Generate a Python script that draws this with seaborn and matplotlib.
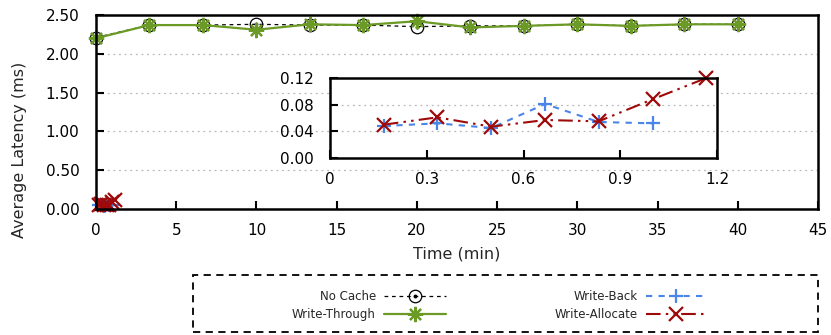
import matplotlib
matplotlib.use("Agg")
import matplotlib.pyplot as plt
import matplotlib.patches as mpatches
from matplotlib.lines import Line2D
from matplotlib.legend_handler import HandlerTuple
import seaborn as sns

# ---- data ----
t_main = [0, 3.33, 6.67, 10, 13.33, 16.67, 20, 23.33, 26.67, 30, 33.33, 36.67, 40]
no_cache = [2.21, 2.37, 2.37, 2.38, 2.37, 2.37, 2.35, 2.36, 2.36, 2.38, 2.36, 2.38, 2.38]
write_through = [2.20, 2.37, 2.37, 2.31, 2.38, 2.37, 2.42, 2.34, 2.36, 2.38, 2.36, 2.38, 2.38]

t_wb = [0.167, 0.333, 0.5, 0.667, 0.833, 1.0]
write_back = [0.048, 0.052, 0.045, 0.081, 0.054, 0.052]
t_wa = [0.167, 0.333, 0.5, 0.667, 0.833, 1.0, 1.167]
write_allocate = [0.050, 0.061, 0.047, 0.057, 0.055, 0.088, 0.120]

series_labels = ["No Cache", "Write-Through", "Write-Back", "Write-Allocate"]
main_xticks = [0, 5, 10, 15, 20, 25, 30, 35, 40, 45]
main_yticks = [0.0, 0.5, 1.0, 1.5, 2.0, 2.5]
inset_xticks = [0, 0.3, 0.6, 0.9, 1.2]
inset_xlabels = ["0", "0.3", "0.6", "0.9", "1.2"]
inset_yticks = [0.0, 0.04, 0.08, 0.12]

sns.set_theme(style="white")
plt.rcParams['font.family'] = ['DejaVu Sans']

C_NC = "black"
C_WT = "#6b9a26"
C_WB = "#4a86e8"
C_WA = "#9e0a0a"

fig = plt.figure(figsize=(8.31, 3.35), dpi=100)
ax = fig.add_axes([96/831, 1-209/335, (818-96)/831, (209-15)/335])


def draw_series(a, x, y, kind, label=None):
    if kind == "nc":
        sns.lineplot(x=x, y=y, ax=a, color=C_NC, lw=0.9, legend=False)
        ln = a.lines[-1]
        ln.set_dashes((3, 3))
        ln.set_marker("o")
        ln.set_markersize(9)
        ln.set_markerfacecolor("none")
        ln.set_markeredgecolor(C_NC)
        ln.set_markeredgewidth(0.9)
        ln.set_label(label)
        a.plot(x, y, ls="none", marker="o", ms=1.8, color=C_NC)
    elif kind == "wt":
        sns.lineplot(x=x, y=y, ax=a, color=C_WT, lw=1.6, legend=False)
        ln = a.lines[-1]
        ln.set_marker((8, 2, 0))
        ln.set_markersize(11)
        ln.set_markeredgewidth(1.6)
        ln.set_markeredgecolor(C_WT)
        ln.set_label(label)
    elif kind == "wb":
        sns.lineplot(x=x, y=y, ax=a, color=C_WB, lw=1.5, legend=False)
        ln = a.lines[-1]
        ln.set_dashes((3, 3))
        ln.set_marker("+")
        ln.set_markersize(10)
        ln.set_markeredgewidth(1.6)
        ln.set_markeredgecolor(C_WB)
        ln.set_label(label)
    elif kind == "wa":
        sns.lineplot(x=x, y=y, ax=a, color=C_WA, lw=1.5, legend=False)
        ln = a.lines[-1]
        ln.set_dashes((7, 2.5, 1.2, 2.5, 1.2, 2.5))
        ln.set_marker("x")
        ln.set_markersize(10)
        ln.set_markeredgewidth(1.6)
        ln.set_markeredgecolor(C_WA)
        ln.set_label(label)


draw_series(ax, t_main, no_cache, "nc", series_labels[0])
draw_series(ax, t_main, write_through, "wt", series_labels[1])
draw_series(ax, t_wb, write_back, "wb", series_labels[2])
draw_series(ax, t_wa, write_allocate, "wa", series_labels[3])
if ax.get_legend() is not None:
    ax.get_legend().remove()

ax.set_xlim(0, 45)
ax.set_ylim(0, 2.5)
ax.set_xticks(main_xticks)
ax.set_yticks(main_yticks)
ax.set_yticklabels([f"{v:.2f}" for v in main_yticks])
ax.set_xlabel("Time (min)", fontsize=11.5, labelpad=6)
ax.set_ylabel("Average Latency (ms)", fontsize=11.5)
ax.yaxis.set_label_coords((27-96)/722, (209-150)/194)
ax.tick_params(axis="both", direction="in", length=6, width=1.5, labelsize=11,
               colors="black", left=True, bottom=True)
ax.tick_params(axis="x", pad=10)
ax.tick_params(axis="y", pad=12)
for s in ax.spines.values():
    s.set_color("black")
    s.set_linewidth(1.8)
ax.yaxis.grid(True, color="#b8b8b8", ls=(0, (1.5, 3)), lw=0.9)
ax.xaxis.grid(False)
ax.set_axisbelow(True)
for ln in ax.lines:
    ln.set_clip_on(False)

# ---- inset ----
ins = fig.add_axes([330/831, 1-158/335, (717-330)/831, 80/335])
ins.set_facecolor("white")
draw_series(ins, t_wb, write_back, "wb")
draw_series(ins, t_wa, write_allocate, "wa")
if ins.get_legend() is not None:
    ins.get_legend().remove()
ins.set_xlim(0, 1.2)
ins.set_ylim(0, 0.12)
ins.set_xticks(inset_xticks)
ins.set_xticklabels(inset_xlabels)
ins.set_yticks(inset_yticks)
ins.set_yticklabels([f"{v:.2f}" for v in inset_yticks])
ins.tick_params(axis="both", direction="in", length=6, width=1.5, labelsize=11,
                colors="black", left=True, bottom=True)
ins.tick_params(axis="x", pad=10)
ins.tick_params(axis="y", pad=12)
for s in ins.spines.values():
    s.set_color("black")
    s.set_linewidth(1.8)
ins.yaxis.grid(True, color="#b8b8b8", ls=(0, (1.5, 3)), lw=0.9)
ins.xaxis.grid(False)
ins.set_axisbelow(True)
for ln in ins.lines:
    ln.set_clip_on(False)

# ---- legend ----
handles = {l.get_label(): l for l in ax.lines if l.get_label() in series_labels}
nc_proxy = (handles["No Cache"], Line2D([], [], ls="none", marker="o", ms=1.8, color=C_NC))
leg = fig.legend([nc_proxy, handles["Write-Through"], handles["Write-Back"], handles["Write-Allocate"]],
                 series_labels,
                 handler_map={tuple: HandlerTuple(ndivide=1, pad=0)},
                 ncol=2, markerfirst=False, fontsize=8.5,
                 bbox_to_anchor=(292/831, 1-290/335), loc="upper left",
                 handlelength=5.2, borderaxespad=0, borderpad=0, frameon=False,
                 columnspacing=9.2, labelspacing=0.45, handletextpad=0.7)
box = mpatches.Rectangle((193/831, 3/335), 625/831, (332-275)/335,
                         transform=fig.transFigure, fill=False, edgecolor="black",
                         lw=1.3, ls=(0, (4, 3)))
fig.patches.append(box)

fig.savefig("out.png", dpi=100)
